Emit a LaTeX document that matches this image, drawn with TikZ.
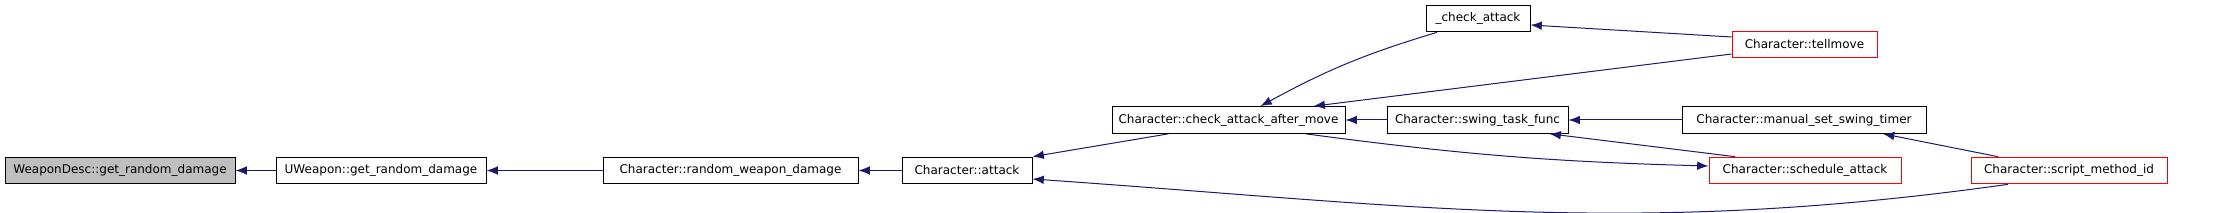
\documentclass[tikz,border=0pt]{standalone}
\usepackage{fontspec}
\setmainfont{DejaVu Sans}
\usetikzlibrary{positioning, calc, arrows.meta}
\definecolor{calledge}{HTML}{191970}
\definecolor{rootfill}{HTML}{BFBFBF}
\tikzset{
    fn node/.style={rectangle, draw=black, line width=0.75pt, minimum height=20pt, inner sep=0pt, font=\fontsize{9pt}{11pt}\selectfont},
    root node/.style={fn node, fill=rootfill},
    link node/.style={fn node, draw=red},
    call/.style={calledge, line width=0.75pt, {Latex[length=8.5pt,width=6.5pt]}-},
}
\begin{document}
\begin{tikzpicture}[x=0.75pt, y=0.75pt]
    \useasboundingbox (0,0) rectangle (2216,-213);
    % bottom row
    \node[root node, minimum width=172.5pt] (wd) at (120,-170.5) {WeaponDesc::get\_random\_damage};
    \node[fn node, minimum width=157.5pt] (uw) at (381,-170.5) {UWeapon::get\_random\_damage};
    \node[fn node, minimum width=191.25pt] (rwd) at (730.5,-170.5) {Character::random\_weapon\_damage};
    \node[fn node, minimum width=97.5pt] (atk) at (967,-170.5) {Character::attack};
    \node[link node, minimum width=144pt] (sch) at (1805,-170.5) {Character::schedule\_attack};
    \node[link node, minimum width=147pt] (smi) at (2069,-170.5) {Character::script\_method\_id};
    % middle row
    \node[fn node, minimum width=174.75pt] (catm) at (1228.5,-120) {Character::check\_attack\_after\_move};
    \node[fn node, minimum width=135.75pt] (stf) at (1477.5,-120) {Character::swing\_task\_func};
    \node[fn node, minimum width=183pt] (mst) at (1804,-120) {Character::manual\_set\_swing\_timer};
    % top
    \node[fn node, minimum width=78pt] (chk) at (1478,-18.5) {\_check\_attack};
    \node[link node, minimum width=108.75pt] (tell) at (1804.5,-44.5) {Character::tellmove};

    \draw[call] (wd.east) -- (uw.west);
    \draw[call] (uw.east) -- (rwd.west);
    \draw[call] (rwd.east) -- (atk.west);
    \draw[call] (atk.north east) -- ($(catm.south)+(-60,0)$);
    \draw[call] ($(atk.east)+(0,-8.5)$) to[out=-4, in=-172] ($(smi.south)+(-61,0)$);
    \draw[call] ($(catm.north)+(32,0)$) to[bend left=6] ($(chk.south)+(-41,0)$);
    \draw[call] ($(catm.north)+(85,0)$) -- ($(tell.west)+(0,-9.5)$);
    \draw[call] ($(chk.east)+(0,-6.5)$) -- ($(tell.west)+(0,7.5)$);
    \draw[call] (catm.east) -- (stf.west);
    \draw[call] (stf.east) -- (mst.west);
    \draw[call] ($(stf.south)+(72,0)$) -- ($(sch.north)+(-70,0)$);
    \draw[call] ($(sch.west)+(0,4.5)$) to[bend left=3] ($(catm.south)+(77,0)$);
    \draw[call] ($(mst.south)+(79,0)$) -- ($(smi.north)+(-71,0)$);
\end{tikzpicture}
\end{document}
